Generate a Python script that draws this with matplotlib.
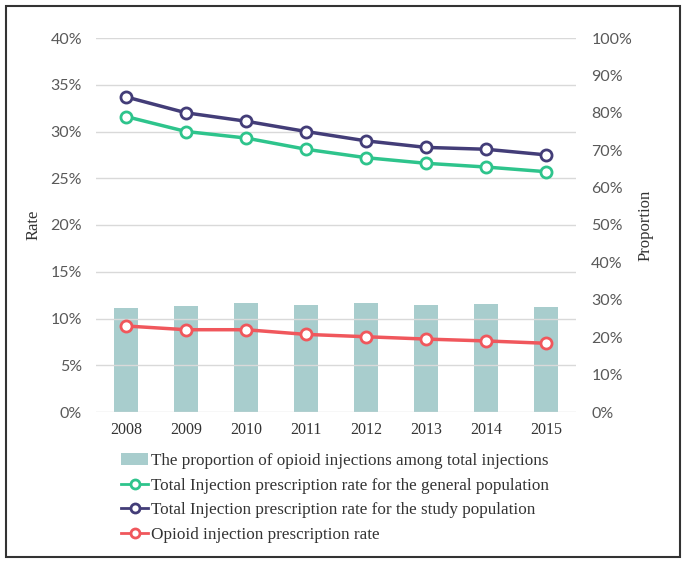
import numpy as np
import matplotlib.pyplot as plt
from matplotlib.patches import Rectangle
from matplotlib.ticker import PercentFormatter

years = ['2008', '2009', '2010', '2011', '2012', '2013', '2014', '2015']
proportion = [27.7, 28.3, 29.1, 28.6, 29.1, 28.6, 28.9, 28.1]
general_rate = [31.6, 30.0, 29.3, 28.1, 27.2, 26.6, 26.2, 25.7]
study_rate = [33.7, 32.0, 31.1, 30.0, 29.0, 28.3, 28.1, 27.5]
opioid_rate = [9.2, 8.8, 8.8, 8.3, 8.05, 7.8, 7.6, 7.35]

SERIF = 'Liberation Serif'
TICK_COLOR = '#595959'

fig = plt.figure(figsize=(6.87, 5.65), dpi=100)
ax = fig.add_axes([96 / 687, 1 - 412 / 565, 480 / 687, 374 / 565])
ax2 = ax.twinx()

x = np.arange(len(years))

# bars on the proportion axis
ax2.bar(x, proportion, width=0.39, color='#a8cdcd', zorder=1,
        label='The proportion of opioid injections among total injections')

ax.set_zorder(ax2.get_zorder() + 1)
ax.patch.set_visible(False)

mk = dict(marker='o', markersize=8, markerfacecolor='white', markeredgewidth=2, linewidth=2.5)
ax.plot(x, general_rate, color='#2ec48c', label='Total Injection prescription rate for the general population', **mk)
ax.plot(x, study_rate, color='#433d78', label='Total Injection prescription rate for the study population', **mk)
ax.plot(x, opioid_rate, color='#f0575c', label='Opioid injection prescription rate', **mk)

ax.set_xlim(-0.5, len(years) - 0.5)
ax.set_ylim(0, 40)
ax2.set_ylim(0, 100)
ax.set_yticks(np.arange(0, 41, 5))
ax2.set_yticks(np.arange(0, 101, 10))
ax.yaxis.set_major_formatter(PercentFormatter(decimals=0))
ax2.yaxis.set_major_formatter(PercentFormatter(decimals=0))
ax.set_xticks(x)
ax.set_xticklabels(years, fontfamily=SERIF, fontsize=11.5, color='#333333')

ax.grid(axis='y', color='#d9d9d9', linewidth=1)
ax.set_axisbelow(True)
for a in (ax, ax2):
    for s in a.spines.values():
        s.set_visible(False)
    a.tick_params(length=0)
ax.tick_params(axis='y', pad=10, labelcolor=TICK_COLOR, labelsize=11.5)
ax.tick_params(axis='x', pad=7)
ax2.tick_params(axis='y', pad=11, labelcolor=TICK_COLOR, labelsize=11.5)
for lbl in ax.get_yticklabels() + ax2.get_yticklabels():
    lbl.set_fontfamily('Lato')

ax.set_ylabel('Rate', fontfamily=SERIF, fontsize=12, color='#333333')
ax2.set_ylabel('Proportion', fontfamily=SERIF, fontsize=12, color='#333333')
ax.yaxis.set_label_coords(-0.113, 0.5)
ax2.yaxis.set_label_coords(1.128, 0.5)

h1, l1 = ax2.get_legend_handles_labels()
h2, l2 = ax.get_legend_handles_labels()
leg = fig.legend(h1 + h2, l1 + l2, loc='upper left', bbox_to_anchor=(121 / 687, 1 - 453 / 565),
                 frameon=False, prop={'family': SERIF, 'size': 12.3}, handlelength=1.6,
                 handletextpad=0.15, labelspacing=0.5, borderaxespad=0, borderpad=0)
for t in leg.get_texts():
    t.set_color('#333333')
for h in leg.legend_handles[1:]:
    h.set_markersize(6.5)
    h.set_linewidth(2)

# outer frame
fig.patches.append(Rectangle((6 / 687, 1 - 557 / 565), 674 / 687, 551 / 565,
                             transform=fig.transFigure, fill=False,
                             edgecolor='#333333', linewidth=1.5))

fig.savefig('out.png', dpi=100)
